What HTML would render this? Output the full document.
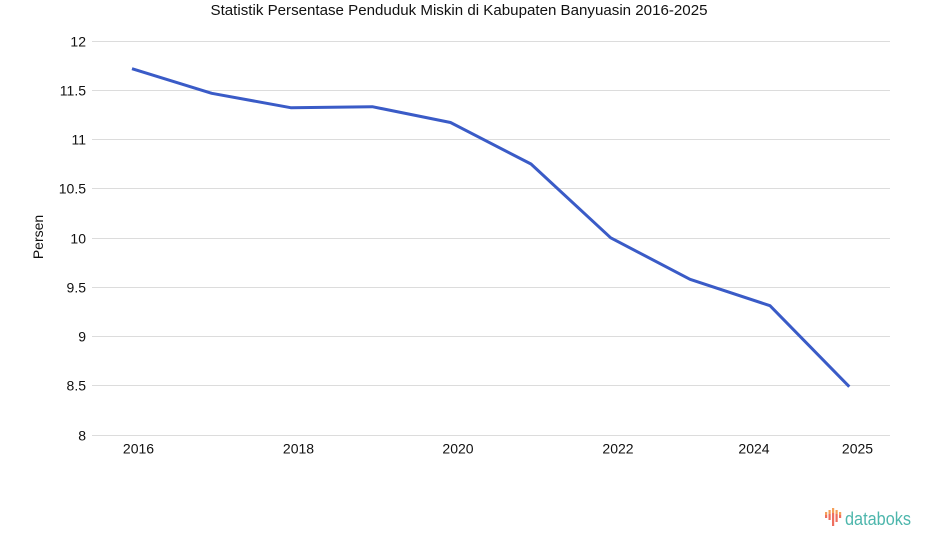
<!DOCTYPE html>
<html>
<head>
<meta charset="utf-8">
<style>
html,body{margin:0;padding:0;background:#fff;}
svg{display:block;}
text{font-family:"Liberation Sans",Arial,sans-serif;fill:#111;}
</style>
</head>
<body>
<svg width="925" height="547" viewBox="0 0 925 547" xmlns="http://www.w3.org/2000/svg">
<rect width="925" height="547" fill="#fff"/>
<text x="459" y="15" font-size="15" text-anchor="middle" textLength="497" lengthAdjust="spacingAndGlyphs">Statistik Persentase Penduduk Miskin di Kabupaten Banyuasin 2016-2025</text>
<g stroke="#dcdcdc" stroke-width="1">
<line x1="92" y1="41.5" x2="890" y2="41.5"/>
<line x1="92" y1="90.5" x2="890" y2="90.5"/>
<line x1="92" y1="139.5" x2="890" y2="139.5"/>
<line x1="92" y1="188.5" x2="890" y2="188.5"/>
<line x1="92" y1="238.5" x2="890" y2="238.5"/>
<line x1="92" y1="287.5" x2="890" y2="287.5"/>
<line x1="92" y1="336.5" x2="890" y2="336.5"/>
<line x1="92" y1="385.5" x2="890" y2="385.5"/>
<line x1="92" y1="435.5" x2="890" y2="435.5"/>
</g>
<g font-size="14" text-anchor="end">
<text x="86" y="46.5">12</text>
<text x="86" y="95.5">11.5</text>
<text x="86" y="144.5">11</text>
<text x="86" y="193.5">10.5</text>
<text x="86" y="243.5">10</text>
<text x="86" y="292.5">9.5</text>
<text x="86" y="341.5">9</text>
<text x="86" y="390.5">8.5</text>
<text x="86" y="440.5">8</text>
</g>
<g font-size="14" text-anchor="middle">
<text x="138.5" y="453.5">2016</text>
<text x="298.5" y="453.5">2018</text>
<text x="458" y="453.5">2020</text>
<text x="618" y="453.5">2022</text>
<text x="754" y="453.5">2024</text>
<text x="857.5" y="453.5">2025</text>
</g>
<text x="0" y="0" font-size="14" text-anchor="middle" transform="translate(43,237) rotate(-90)">Persen</text>
<polyline fill="none" stroke="#3a5bc7" stroke-width="3" stroke-linejoin="round" stroke-linecap="butt"
points="132,68.7 211.7,93.3 290.7,107.7 372.3,106.7 450.5,122.5 531,164 610.7,237.8 690,279.3 770,305.7 849.3,386.7"/>
<g>
<rect x="825" y="512" width="2.2" height="3" fill="#f5a05a"/>
<rect x="825" y="515" width="2.2" height="3" fill="#ee6f5f"/>
<rect x="828.5" y="510" width="2.2" height="4" fill="#f5a05a"/>
<rect x="828.5" y="514" width="2.2" height="6" fill="#ee6f5f"/>
<rect x="832" y="508" width="2.2" height="5" fill="#f5a05a"/>
<rect x="832" y="513" width="2.2" height="13" fill="#ee6f5f"/>
<rect x="835.5" y="510" width="2.2" height="4" fill="#f5a05a"/>
<rect x="835.5" y="514" width="2.2" height="8" fill="#ee6f5f"/>
<rect x="839" y="512" width="2.2" height="3" fill="#f5a05a"/>
<rect x="839" y="515" width="2.2" height="3" fill="#ee6f5f"/>
</g>
<text x="845" y="525" font-size="18" style="fill:#4db6ac" textLength="66" lengthAdjust="spacingAndGlyphs">databoks</text>
</svg>
</body>
</html>
